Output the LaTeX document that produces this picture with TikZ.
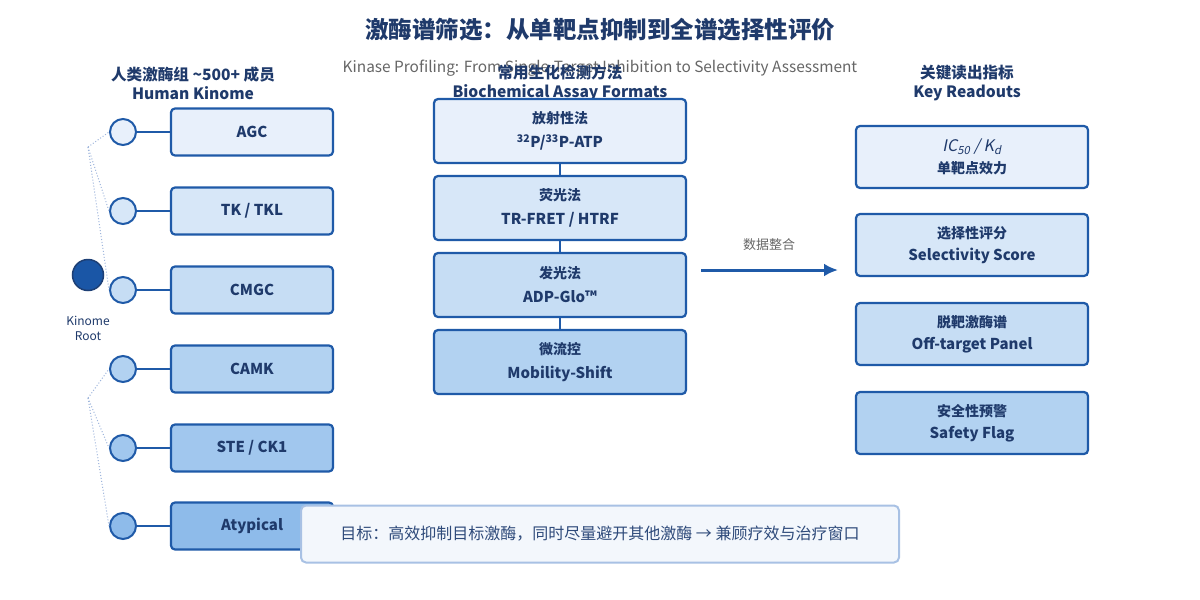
\documentclass[tikz,border=0pt]{standalone}
\usepackage{fontspec}
\setmainfont{Noto Sans CJK SC}
\newfontfamily\slfont{Noto Sans CJK SC}[FakeSlant=0.2]
\usetikzlibrary{arrows.meta}

\definecolor{navy}{HTML}{1F3A6B}
\definecolor{edge}{HTML}{1F5AA8}
\definecolor{greytxt}{HTML}{666666}
\definecolor{dotblue}{HTML}{9DB5DC}
\definecolor{shA}{HTML}{E8F0FB}
\definecolor{shB}{HTML}{D7E7F8}
\definecolor{shC}{HTML}{C6DDF4}
\definecolor{shD}{HTML}{B2D2F1}
\definecolor{shE}{HTML}{A1C7EE}
\definecolor{shF}{HTML}{8EBBEA}
\definecolor{rootfill}{HTML}{1A56A6}
\definecolor{rootedge}{HTML}{1D3F75}
\definecolor{notefill}{HTML}{F3F7FC}
\definecolor{noteedge}{HTML}{A8C1E4}
\definecolor{notetxt}{HTML}{2E4A7A}

\newcommand{\fsz}[2]{\fontsize{#1}{#2}\selectfont}

\tikzset{
  famcircle/.style={circle,draw=edge,line width=2pt,minimum size=26pt,inner sep=0pt},
  fambox/.style={draw=edge,line width=2.2pt,rounded corners=4pt,minimum width=162pt,
    minimum height=47pt,text=navy,font=\fsz{15}{18}\bfseries},
  assaybox/.style={draw=edge,line width=2.2pt,rounded corners=4pt,minimum width=252pt,
    minimum height=64pt,text=navy,align=center,font=\fsz{15}{24}\bfseries},
  readbox/.style={draw=edge,line width=2.2pt,rounded corners=4pt,minimum width=232pt,
    minimum height=62pt,text=navy,align=center,font=\fsz{15}{22}\bfseries},
  header/.style={text=navy,align=center,font=\fsz{15.6}{19}\bfseries},
  link/.style={edge,line width=2pt},
  treeline/.style={dotblue,dotted,line width=1pt}
}

\begin{document}
\begin{tikzpicture}[x=1pt,y=-1pt]
\useasboundingbox[fill=white] (0,0) rectangle (1200,600);

% Title
\node[text=navy,font=\fsz{23.5}{28}\bfseries] (title) at (600,30) {激酶谱筛选：从单靶点抑制到全谱选择性评价};
\node[text=greytxt,font=\fsz{15.4}{18}] (subtitle) at (600,68) {Kinase Profiling: From Single-Target Inhibition to Selectivity Assessment};

% Column headers
\node[header] (hleft) at (193,83) {人类激酶组 \textasciitilde500+ 成员\\Human Kinome};
\node[header] (hmid) at (560,83) {常用生化检测方法\\Biochemical Assay Formats};
\node[header] (hright) at (967,83) {关键读出指标\\Key Readouts};

% Root
\node[circle,fill=rootfill,draw=rootedge,line width=1.5pt,minimum size=31pt] (root) at (88,275) {};
\node[text=navy,align=center,font=\fsz{12}{15}] (rootlab) at (88,328) {Kinome\\Root};

% tree lines
\coordinate (upper) at (88,147);
\coordinate (lower) at (88,398);

% kinase groups
\node[famcircle,fill=shA] (c1) at (123,132) {};
\node[famcircle,fill=shB] (c2) at (123,211) {};
\node[famcircle,fill=shC] (c3) at (123,290) {};
\node[famcircle,fill=shD] (c4) at (123,369) {};
\node[famcircle,fill=shE] (c5) at (123,448) {};
\node[famcircle,fill=shF] (c6) at (123,526) {};

\draw[treeline] (upper) -- (c1.west);
\draw[treeline] (upper) -- (c2.west);
\draw[treeline] (upper) -- (c3.west);
\draw[treeline] (lower) -- (c4.west);
\draw[treeline] (lower) -- (c5.west);
\draw[treeline] (lower) -- (c6.west);

\node[fambox,fill=shA] (agc) at (252,132) {AGC};
\node[fambox,fill=shB] (tk) at (252,211) {TK / TKL};
\node[fambox,fill=shC] (cmgc) at (252,290) {CMGC};
\node[fambox,fill=shD] (camk) at (252,369) {CAMK};
\node[fambox,fill=shE] (ste) at (252,448) {STE / CK1};
\node[fambox,fill=shF] (atyp) at (252,526) {Atypical};

\draw[link] (c1.east) -- (agc.west);
\draw[link] (c2.east) -- (tk.west);
\draw[link] (c3.east) -- (cmgc.west);
\draw[link] (c4.east) -- (camk.west);
\draw[link] (c5.east) -- (ste.west);
\draw[link] (c6.east) -- (atyp.west);

% assay formats
\node[assaybox,fill=shA] (radio) at (560,131) {{\fsz{14}{18}放射性法}\\\textsuperscript{32}P/\textsuperscript{33}P-ATP};
\node[assaybox,fill=shB] (fluo) at (560,208) {{\fsz{14}{18}荧光法}\\TR-FRET / HTRF};
\node[assaybox,fill=shC] (lumi) at (560,285) {{\fsz{14}{18}发光法}\\ADP-Glo™};
\node[assaybox,fill=shD] (micro) at (560,362) {{\fsz{14}{18}微流控}\\Mobility-Shift};

\draw[link] (radio.south) -- (fluo.north);
\draw[link] (fluo.south) -- (lumi.north);
\draw[link] (lumi.south) -- (micro.north);

% data integration arrow
\coordinate (arrS) at (701,270);
\coordinate (arrE) at (838,270);
\draw[edge,line width=3pt,-{Latex[length=14pt,width=13pt]}] (arrS) -- (arrE);
\node[text=greytxt,font=\fsz{13}{16}] (merge) at (769,245) {数据整合};

% readouts
\node[readbox,fill=shA] (ic50) at (972,157) {{\mdseries\fsz{16}{18}\slfont IC\textsubscript{50} / K\textsubscript{d}}\\{\fsz{14}{18}单靶点效力}};
\node[readbox,fill=shB] (score) at (972,245) {{\fsz{14}{18}选择性评分}\\Selectivity Score};
\node[readbox,fill=shC] (panel) at (972,334) {{\fsz{14}{18}脱靶激酶谱}\\Off-target Panel};
\node[readbox,fill=shD] (flag) at (972,423) {{\fsz{14}{18}安全性预警}\\Safety Flag};

% goal note
\node[draw=noteedge,fill=notefill,line width=2pt,rounded corners=5pt,minimum width=598pt,
  minimum height=57pt,text=notetxt,font=\fsz{16}{19}] (goal) at (600,534)
  {目标：高效抑制目标激酶，同时尽量避开其他激酶 → 兼顾疗效与治疗窗口};
\end{tikzpicture}
\end{document}
